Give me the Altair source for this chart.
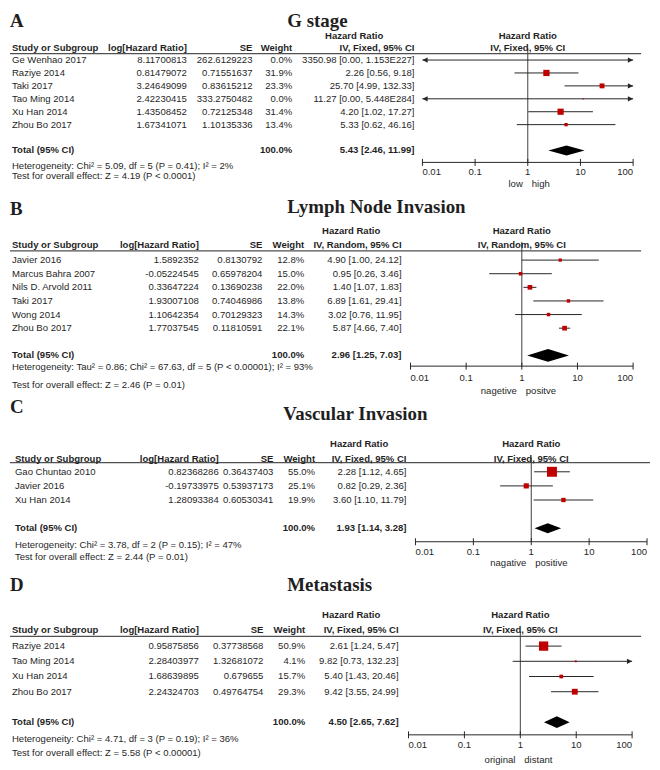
import altair as alt
import pandas as pd

# ---------------- shared axis ticks ----------------
TICK_VALUES = [0.01, 0.1, 1, 10, 100]
TICK_LABELS = ["0.01", "0.1", "1", "10", "100"]

# ---------------- A: G stage ----------------
A_letter = "A"
A_title = "G stage"
A_method = "IV, Fixed, 95% CI"
A_study = ["Ge Wenhao 2017", "Raziye 2014", "Taki 2017", "Tao Ming 2014", "Xu Han 2014", "Zhou Bo 2017"]
A_loghr = [8.11700813, 0.81479072, 3.24649099, 2.42230415, 1.43508452, 1.67341071]
A_se = [262.6129223, 0.71551637, 0.83615212, 333.2750482, 0.72125348, 1.10135336]
A_weight = [0.0, 31.9, 23.3, 0.0, 31.4, 13.4]
A_hr = [3350.98, 2.26, 25.70, 11.27, 4.20, 5.33]
A_lo = [0.00, 0.56, 4.99, 0.00, 1.02, 0.62]
A_hi = [1.153e227, 9.18, 132.33, 5.448e284, 17.27, 46.16]
A_total = [5.43, 2.46, 11.99]
A_het = "Heterogeneity: Chi² = 5.09, df = 5 (P = 0.41); I² = 2%"
A_test = "Test for overall effect: Z = 4.19 (P < 0.0001)"
A_dirs = ["low", "high"]

# ---------------- B: Lymph Node Invasion ----------------
B_letter = "B"
B_title = "Lymph Node Invasion"
B_method = "IV, Random, 95% CI"
B_study = ["Javier 2016", "Marcus Bahra 2007", "Nils D. Arvold 2011", "Taki 2017", "Wong 2014", "Zhou Bo 2017"]
B_loghr = [1.5892352, -0.05224545, 0.33647224, 1.93007108, 1.10642354, 1.77037545]
B_se = [0.8130792, 0.65978204, 0.13690238, 0.74046986, 0.70129323, 0.11810591]
B_weight = [12.8, 15.0, 22.0, 13.8, 14.3, 22.1]
B_hr = [4.90, 0.95, 1.40, 6.89, 3.02, 5.87]
B_lo = [1.00, 0.26, 1.07, 1.61, 0.76, 4.66]
B_hi = [24.12, 3.46, 1.83, 29.41, 11.95, 7.40]
B_total = [2.96, 1.25, 7.03]
B_het = "Heterogeneity: Tau² = 0.86; Chi² = 67.63, df = 5 (P < 0.00001); I² = 93%"
B_test = "Test for overall effect: Z = 2.46 (P = 0.01)"
B_dirs = ["nagetive", "positve"]

# ---------------- C: Vascular Invasion ----------------
C_letter = "C"
C_title = "Vascular Invasion"
C_method = "IV, Fixed, 95% CI"
C_study = ["Gao Chuntao 2010", "Javier 2016", "Xu Han 2014"]
C_loghr = [0.82368286, -0.19733975, 1.28093384]
C_se = [0.36437403, 0.53937173, 0.60530341]
C_weight = [55.0, 25.1, 19.9]
C_hr = [2.28, 0.82, 3.60]
C_lo = [1.12, 0.29, 1.10]
C_hi = [4.65, 2.36, 11.79]
C_total = [1.93, 1.14, 3.28]
C_het = "Heterogeneity: Chi² = 3.78, df = 2 (P = 0.15); I² = 47%"
C_test = "Test for overall effect: Z = 2.44 (P = 0.01)"
C_dirs = ["nagative", "positive"]

# ---------------- D: Metastasis ----------------
D_letter = "D"
D_title = "Metastasis"
D_method = "IV, Fixed, 95% CI"
D_study = ["Raziye 2014", "Tao Ming 2014", "Xu Han 2014", "Zhou Bo 2017"]
D_loghr = [0.95875856, 2.28403977, 1.68639895, 2.24324703]
D_se = [0.37738568, 1.32681072, 0.679655, 0.49764754]
D_weight = [50.9, 4.1, 15.7, 29.3]
D_hr = [2.61, 9.82, 5.40, 9.42]
D_lo = [1.24, 0.73, 1.43, 3.55]
D_hi = [5.47, 132.23, 20.46, 24.99]
D_total = [4.50, 2.65, 7.62]
D_het = "Heterogeneity: Chi² = 4.71, df = 3 (P = 0.19); I² = 36%"
D_test = "Test for overall effect: Z = 5.58 (P < 0.00001)"
D_dirs = ["original", "distant"]

# ---------------- styling / layout ----------------
FONT = "Liberation Sans"
SERIF = "Liberation Serif"
FS = 9.6
TXT = "#1f1f1f"
RED = "#C00000"
INK = "#262626"
ONE = pd.DataFrame({"k": [0]})
W = 644
TOTAL_H = 759


def cy(v):
    # page pixel -> chart pixel (page has an 8px margin)
    return v - 8


def fmt(v):
    if v >= 1e6:
        return f"{v:.3E}".replace("E+", "E")
    return f"{v:.2f}"


def ci_text(h, l, u):
    return f"{fmt(h)} [{fmt(l)}, {fmt(u)}]"


LAYOUT = {
    "A": dict(top=8, bottom=188, lx=3, ly=14.5, tx=287, ty=15, h1=33, h2=45, hl=50.5, hlx2=643,
              row0=57, step=13, trow=7, ax=160, tl=170, dl=182, het=164, test=174, vtop=45,
              sx=10, lhx=186, sex=252, wx=292, cix=415, hrx=325, x001=423, x100=635, dh=5),
    "B": dict(top=188, bottom=378, lx=4, ly=213, tx=287, ty=211, h1=229, h2=243, hl=249, hlx2=643,
              row0=258.3, step=13.7, trow=7, ax=365, tl=376.7, dl=390, het=365.5, test=384, vtop=240,
              sx=10, lhx=198, sex=262, wx=304, cix=402, hrx=322, x001=411, x100=635, dh=6.5),
    "C": dict(top=378, bottom=568, lx=3, ly=412, tx=283, ty=419, h1=443, h2=458, hl=462, hlx2=652,
              row0=471.3, step=14.2, trow=4, ax=541.7, tl=551.7, dl=563, het=545, test=557, vtop=457,
              sx=13, lhx=218, sex=273, wx=315, cix=407, hrx=330, x001=416, x100=649, dh=5),
    "D": dict(top=568, bottom=767, lx=7, ly=591.5, tx=287, ty=591.5, h1=615, h2=631, hl=637, hlx2=643,
              row0=646.7, step=15.3, trow=5, ax=736, tl=746.7, dl=761.2, het=740, test=754.3, vtop=632,
              sx=10, lhx=198, sex=263, wx=305, cix=399, hrx=322, x001=409, x100=634, dh=6),
}


def panel(d, L, last=False):
    top_c = cy(L["top"])
    bot_c = TOTAL_H if last else cy(L["bottom"])
    height = bot_c - top_c

    def y(v):
        return cy(v) - top_c

    def x(v):
        return max(0, min(W, v - 8))

    xs = alt.Scale(type="log", domain=[0.01, 100], range=[x(L["x001"]), x(L["x100"])], clamp=True)
    ys = alt.Scale(type="linear", domain=[0, 1], range=[y(L["row0"]), y(L["row0"] + L["step"])],
                   zero=False, nice=False)

    def xe(f):
        return alt.X(f, type="quantitative", scale=xs, axis=None)

    def ye(f):
        return alt.Y(f, type="quantitative", scale=ys, axis=None)

    def x1():
        return alt.XDatum(1, type="quantitative", scale=xs, axis=None)

    def txt(text, xp, yp, align="left", bold=False, size=FS, font=FONT, baseline="middle"):
        return alt.Chart(ONE).mark_text(
            text=text, align=align, baseline=baseline, font=font, fontSize=size,
            fontWeight="bold" if bold else "normal", color=TXT
        ).encode(x=alt.value(xp), y=alt.value(yp))

    def txt1(text, yp, align="center", dx=0, bold=False):
        return alt.Chart(ONE).mark_text(
            text=text, align=align, baseline="middle", dx=dx, font=FONT, fontSize=FS,
            fontWeight="bold" if bold else "normal", color=TXT
        ).encode(x=x1(), y=alt.value(yp))

    n = len(d["study"])
    rows = pd.DataFrame({
        "row": list(range(n)),
        "study": d["study"],
        "loghr": [str(v) for v in d["loghr"]],
        "se": [str(v) for v in d["se"]],
        "wt": [f"{w:.1f}%" for w in d["weight"]],
        "ci": [ci_text(h, l, u) for h, l, u in zip(d["hr"], d["lo"], d["hi"])],
        "hr": d["hr"],
        "lo_raw": d["lo"],
        "hi_raw": d["hi"],
        "lo": [min(max(v, 0.01), 100) for v in d["lo"]],
        "hi": [max(min(v, 100), 0.01) for v in d["hi"]],
        "sz": [(0.16 * w + 1.2) ** 2 for w in d["weight"]],
    })
    squares = rows[(rows["hr"] >= 0.01) & (rows["hr"] <= 100)]
    left_arrows = rows[rows["lo_raw"] < 0.01]
    right_arrows = rows[rows["hi_raw"] > 100]

    ticks = pd.DataFrame({"t": TICK_VALUES, "lab": TICK_LABELS})
    t_first, t_mid, t_last = ticks.iloc[[0]], ticks.iloc[1:-1], ticks.iloc[[-1]]

    est, lo, hi = d["total"]
    tr = L["trow"]
    h = L["dh"] / L["step"]
    diamond = pd.DataFrame({"x": [lo, est, hi], "top": [tr, tr - h, tr], "bot": [tr, tr + h, tr]})

    ay = y(L["ax"])
    layers = [
        # header rule
        alt.Chart(ONE).mark_rule(color="#505050", strokeWidth=1.3).encode(
            x=alt.value(0), x2=alt.value(x(L["hlx2"])), y=alt.value(y(L["hl"]))),
        # line of no effect
        alt.Chart(ONE).mark_rule(color="#404040", strokeWidth=1).encode(
            x=x1(), y=alt.value(y(L["vtop"])), y2=alt.value(ay)),
        # axis line
        alt.Chart(ONE).mark_rule(color=INK, strokeWidth=1).encode(
            x=alt.XDatum(0.01, type="quantitative", scale=xs, axis=None),
            x2=alt.X2Datum(100), y=alt.value(ay)),
        alt.Chart(ticks).mark_rule(color=INK, strokeWidth=1).encode(
            x=xe("t"), y=alt.value(ay - 3.5), y2=alt.value(ay + 3.5)),
    ]
    for part, al in ((t_first, "left"), (t_mid, "center"), (t_last, "right")):
        layers.append(alt.Chart(part).mark_text(
            align=al, baseline="middle", font=FONT, fontSize=FS, color=TXT
        ).encode(x=xe("t"), y=alt.value(y(L["tl"])), text="lab:N"))

    # confidence intervals
    layers.append(alt.Chart(rows).mark_rule(color=INK, strokeWidth=1).encode(
        x=xe("lo"), x2="hi:Q", y=ye("row")))
    if len(left_arrows):
        layers.append(alt.Chart(left_arrows).mark_point(
            shape="M0,0L1,-0.5L1,0.5Z", filled=True, size=110, color=INK, opacity=1, strokeWidth=0
        ).encode(x=xe("lo"), y=ye("row")))
    if len(right_arrows):
        layers.append(alt.Chart(right_arrows).mark_point(
            shape="M0,0L-1,-0.5L-1,0.5Z", filled=True, size=110, color=INK, opacity=1, strokeWidth=0
        ).encode(x=xe("hi"), y=ye("row")))
    layers.append(alt.Chart(squares).mark_square(color=RED, opacity=1, strokeWidth=0).encode(
        x=xe("hr"), y=ye("row"), size=alt.Size("sz:Q", scale=None, legend=None)))
    layers.append(alt.Chart(diamond).mark_area(color="black", orient="vertical", interpolate="linear",
                                                opacity=1).encode(
        x=xe("x"), y=ye("top"), y2="bot:Q"))

    # table columns
    cols = [("study", L["sx"], "left"), ("loghr", L["lhx"], "right"), ("se", L["sex"], "right"),
            ("wt", L["wx"], "right"), ("ci", L["cix"], "right")]
    for f, xp, al in cols:
        layers.append(alt.Chart(rows).mark_text(
            align=al, baseline="middle", font=FONT, fontSize=FS, color=TXT
        ).encode(x=alt.value(x(xp)), y=ye("row"), text=f"{f}:N"))

    ytot = y(L["row0"] + tr * L["step"])
    yh1, yh2 = y(L["h1"]), y(L["h2"])
    # big letter and title; keep their glyphs inside the drawing area
    yl = max(y(L["ly"]), 15.3)
    yt = max(y(L["ty"]), 15.3)
    layers += [
        txt("Total (95% CI)", x(L["sx"]), ytot, bold=True),
        txt("100.0%", x(L["wx"]), ytot, align="right", bold=True),
        txt(ci_text(est, lo, hi), x(L["cix"]), ytot, align="right", bold=True),
        txt("Study or Subgroup", x(L["sx"]), yh2, bold=True),
        txt("log[Hazard Ratio]", x(L["lhx"]), yh2, align="right", bold=True),
        txt("SE", x(L["sex"]), yh2, align="right", bold=True),
        txt("Weight", x(L["wx"]), yh2, align="right", bold=True),
        txt("Hazard Ratio", x(L["hrx"]), yh1, bold=True),
        txt(d["method"], x(L["cix"]), yh2, align="right", bold=True),
        txt1("Hazard Ratio", yh1, bold=True),
        txt1(d["method"], yh2, bold=True),
        txt1(d["dirs"][0], y(L["dl"]), align="right", dx=-5),
        txt1(d["dirs"][1], y(L["dl"]), align="left", dx=4),
        txt(d["het"], x(L["sx"]), y(L["het"])),
        txt(d["test"], x(L["sx"]), y(L["test"])),
        txt(d["letter"], x(L["lx"]), yl, bold=True, size=19, font=SERIF, baseline="alphabetic"),
        txt(d["title"], x(L["tx"]), yt, bold=True, size=19, font=SERIF, baseline="alphabetic"),
    ]
    return alt.layer(*layers).properties(width=W, height=height)


def pack(p):
    g = globals()
    keys = ["letter", "title", "method", "study", "loghr", "se", "weight", "hr", "lo", "hi",
            "total", "het", "test", "dirs"]
    return {k: g[f"{p}_{k}"] for k in keys}


pA = panel(pack("A"), LAYOUT["A"])
pB = panel(pack("B"), LAYOUT["B"])
pC = panel(pack("C"), LAYOUT["C"])
pD = panel(pack("D"), LAYOUT["D"], last=True)

chart = alt.vconcat(pA, pB, pC, pD, spacing=0, bounds="flush").properties(
    padding=0, background="white"
).configure_view(stroke="transparent")

chart.save("out.html", embed_options={"renderer": "svg", "actions": False})
